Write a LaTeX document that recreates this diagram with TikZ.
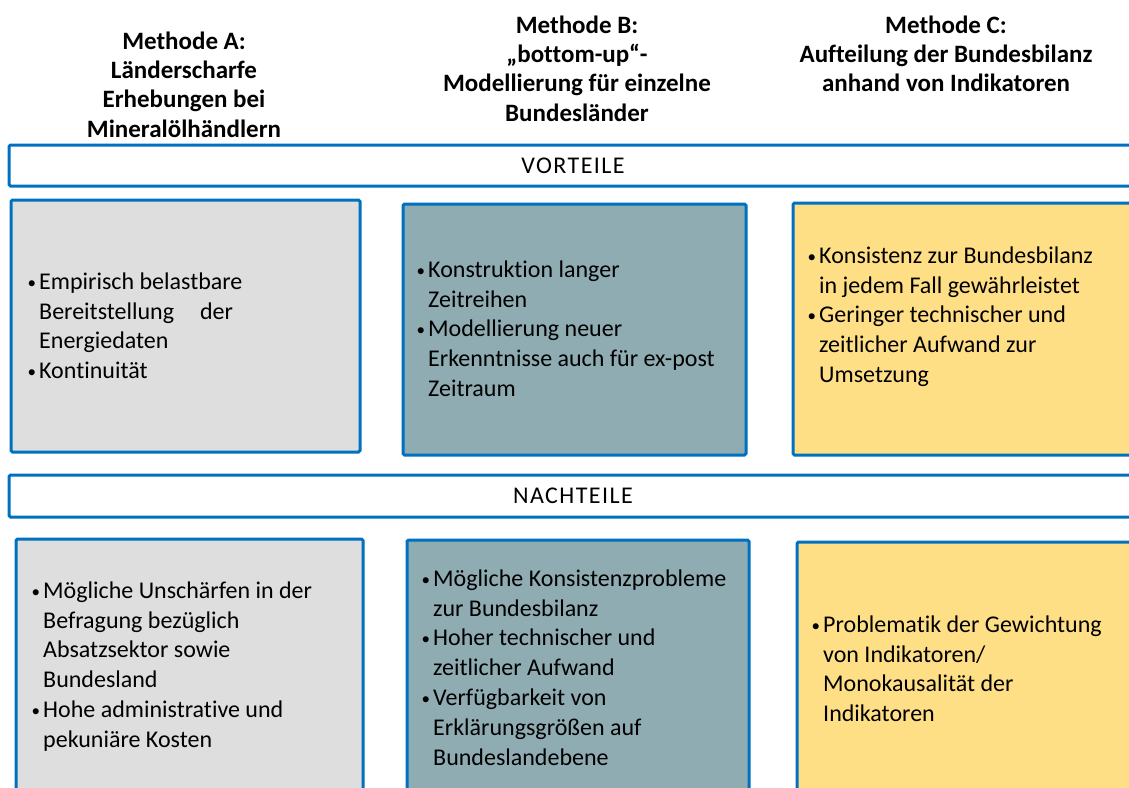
\documentclass[tikz,border=0pt]{standalone}
\usepackage{fontspec}
\setmainfont{Carlito}[Ligatures={NoCommon}]
\definecolor{frameblue}{HTML}{0070C0}
\definecolor{boxgray}{HTML}{DEDEDE}
\definecolor{boxteal}{HTML}{8FACB2}
\definecolor{boxyellow}{HTML}{FFDF86}
\newcommand{\bul}{\makebox[12pt][l]{\hspace{0.5pt}\raisebox{1pt}{\fontsize{17}{17}\selectfont •}}}
\newcommand{\ind}{\hspace*{12pt}}
\begin{document}
\begin{tikzpicture}[x=1pt,y=-1pt,
  frame/.style={draw=frameblue,line width=3pt,rounded corners=1.5pt},
  bartext/.style={font=\fontsize{24}{29.8}\selectfont\addfontfeature{LetterSpace=6},inner sep=0pt,anchor=base},
  bodytext/.style={font=\fontsize{24}{29.8}\selectfont,inner sep=0pt,anchor=north west,align=left},
  headtext/.style={font=\fontsize{25}{29.3}\selectfont\bfseries,inner sep=0pt,anchor=north,align=center}]
\useasboundingbox (0,0) rectangle (1129,787);
\begin{scope}
\clip (0,0) rectangle (1129,787);
% headers
\node[headtext] (hA) at (184,49-20.5) {\strut Methode A:\\\strut Länderscharfe\\\strut Erhebungen bei\\\strut Mineralölhändlern};
\node[headtext] (hB) at (577,33-20.5) {\strut Methode B:\\\strut „bottom-up“-\\\strut Modellierung für einzelne\\\strut Bundesländer};
\node[headtext] (hC) at (946,33-20.5) {\strut Methode C:\\\strut Aufteilung der Bundesbilanz\\\strut anhand von Indikatoren};
% bars
\draw[frame] (9,145) rectangle (1145,186);
\node[bartext] (vor) at (573,173) {VORTEILE};
\draw[frame] (9,475) rectangle (1145,517);
\node[bartext] (nach) at (573,503) {NACHTEILE};
% top boxes
\draw[frame,fill=boxgray] (11,200) rectangle (360,452);
\draw[frame,fill=boxteal] (403,204) rectangle (746,455);
\draw[frame,fill=boxyellow] (793,203) rectangle (1145,455);
% bottom boxes
\draw[frame,fill=boxgray] (16,539) rectangle (363,810);
\draw[frame,fill=boxteal] (407,540) rectangle (749,810);
\draw[frame,fill=boxyellow] (797,542) rectangle (1145,810);
% texts top
\node[bodytext] (tA) at (27,289-20.86) {\strut\bul Empirisch belastbare\\\strut\ind Bereitstellung\hspace{26pt}der\\\strut\ind Energiedaten\\\strut\bul Kontinuität};
\node[bodytext] (tB) at (416,277-20.86) {\strut\bul Konstruktion langer\\\strut\ind Zeitreihen\\\strut\bul Modellierung neuer\\\strut\ind Erkenntnisse auch für ex-post\\\strut\ind Zeitraum};
\node[bodytext] (tC) at (807,263-20.86) {\strut\bul Konsistenz zur Bundesbilanz\\\strut\ind in jedem Fall gewährleistet\\\strut\bul Geringer technischer und\\\strut\ind zeitlicher Aufwand zur\\\strut\ind Umsetzung};
% texts bottom
\node[bodytext] (bA) at (31,598-20.86) {\strut\bul Mögliche Unschärfen in der\\\strut\ind Befragung bezüglich\\\strut\ind Absatzsektor sowie\\\strut\ind Bundesland\\\strut\bul Hohe administrative und\\\strut\ind pekuniäre Kosten};
\node[bodytext] (bB) at (421,586-20.86) {\strut\bul Mögliche Konsistenzprobleme\\\strut\ind zur Bundesbilanz\\\strut\bul Hoher technischer und\\\strut\ind zeitlicher Aufwand\\\strut\bul Verfügbarkeit von\\\strut\ind Erklärungsgrößen auf\\\strut\ind Bundeslandebene};
\node[bodytext] (bC) at (811,632-20.86) {\strut\bul Problematik der Gewichtung\\\strut\ind von Indikatoren/\\\strut\ind Monokausalität der\\\strut\ind Indikatoren};
\end{scope}
\end{tikzpicture}
\end{document}
